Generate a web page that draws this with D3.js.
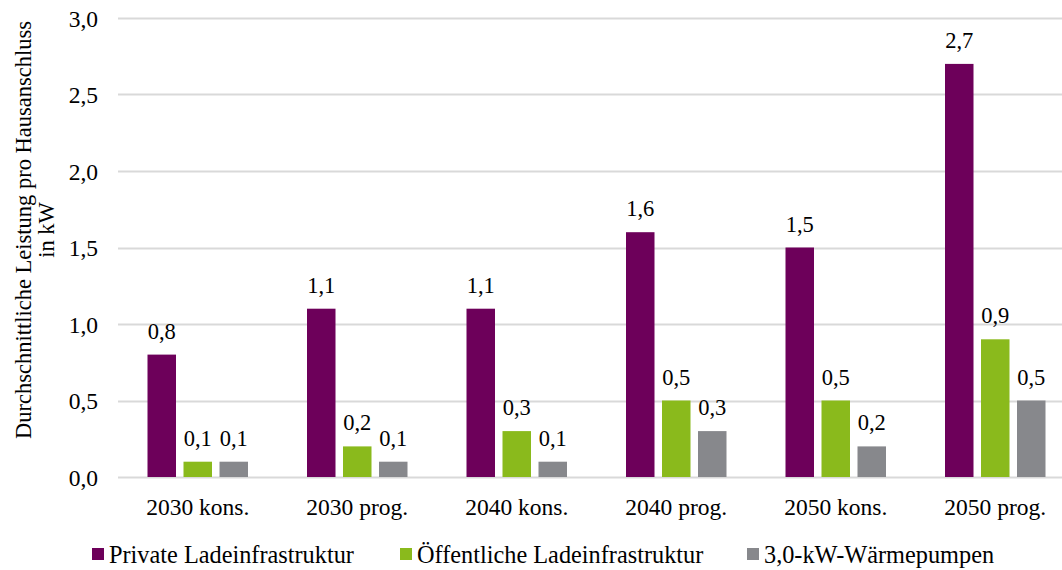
<!DOCTYPE html>
<html><head><meta charset="utf-8">
<script src="https://cdn.jsdelivr.net/npm/d3@7"></script>
</head><body style="margin:0">
<svg id="chart" width="1062" height="570" font-family="Liberation Serif" style="display:block;font-family:'Liberation Serif'"></svg>
<script>
const categories = ["2030 kons.","2030 prog.","2040 kons.","2040 prog.","2050 kons.","2050 prog."];
const seriesNames = ["Private Ladeinfrastruktur","Öffentliche Ladeinfrastruktur","3,0-kW-Wärmepumpen"];
const privateVals = [0.8,1.1,1.1,1.6,1.5,2.7];
const publicVals = [0.1,0.2,0.3,0.5,0.5,0.9];
const heatVals = [0.1,0.1,0.1,0.3,0.2,0.5];
const yTicks = [0,0.5,1.0,1.5,2.0,2.5,3.0];
const colors = ["#6d005a","#8aba1c","#87888c"];

const W=1062;
const svg=d3.select("#chart");
const x0=d3.scaleBand().domain(categories).range([118,1075]).paddingInner(0).paddingOuter(0);
const y=d3.scaleLinear().domain([0,3]).range([477,18]);
const series=[privateVals,publicVals,heatVals];
const fmt=v=>d3.format(".1f")(v).replace(".",",");
function ser(sel,fs){ return sel.attr("font-family","Liberation Serif").attr("font-size",fs).attr("fill","#000"); }

// gridlines
svg.append("g").selectAll("line").data(yTicks).join("line")
  .attr("x1",118).attr("x2",W).attr("y1",d=>Math.round(y(d))+0.5).attr("y2",d=>Math.round(y(d))+0.5)
  .attr("stroke","#d9d9d9").attr("stroke-width",2);

// y tick labels
const yAxis=d3.axisLeft(y).tickValues(yTicks).tickFormat(fmt).tickSize(0).tickPadding(0);
const ga=svg.append("g").attr("transform","translate(98,0)").call(yAxis);
ga.attr("font-family","Liberation Serif").attr("font-size",23.5);
ga.select(".domain").remove();
ser(ga.selectAll("text"),23.5).attr("dy","0.35em");

// x labels
const xAxis=d3.axisBottom(x0).tickSize(0).tickPadding(0);
const gx=svg.append("g").attr("transform","translate(0,507)").call(xAxis);
gx.attr("font-family","Liberation Serif").attr("font-size",23.5);
gx.select(".domain").remove();
ser(gx.selectAll("text"),23.5).attr("dy","0.35em");

// bars
const bw=28.5, step=36;
series.forEach((vals,si)=>{
  const g=svg.append("g");
  g.selectAll("rect").data(vals).join("rect")
    .attr("x",(d,i)=>x0(categories[i])+x0.bandwidth()/2-bw/2+(si-1)*step)
    .attr("y",d=>y(d)).attr("width",bw).attr("height",d=>y(0)-y(d))
    .attr("fill",colors[si]);
  ser(g.selectAll("text").data(vals).join("text"),22.5)
    .attr("x",(d,i)=>x0(categories[i])+x0.bandwidth()/2+(si-1)*step)
    .attr("y",d=>y(d)-16).attr("text-anchor","middle")
    .text(fmt);
});

// y title
const yt=ser(svg.append("text"),22.5).attr("transform","translate(31,230) rotate(-90)").attr("text-anchor","middle");
yt.append("tspan").attr("x",0).attr("dy",0).text("Durchschnittliche Leistung pro Hausanschluss");
yt.append("tspan").attr("x",0).attr("dy",23).text("in kW");

// legend
const legX=[92,400,747];
const lg=svg.append("g");
seriesNames.forEach((n,i)=>{
  lg.append("rect").attr("x",legX[i]).attr("y",548).attr("width",12).attr("height",12).attr("fill",colors[i]);
  ser(lg.append("text"),24.3).attr("x",legX[i]+17).attr("y",563).text(n);
});
</script>
</body></html>
